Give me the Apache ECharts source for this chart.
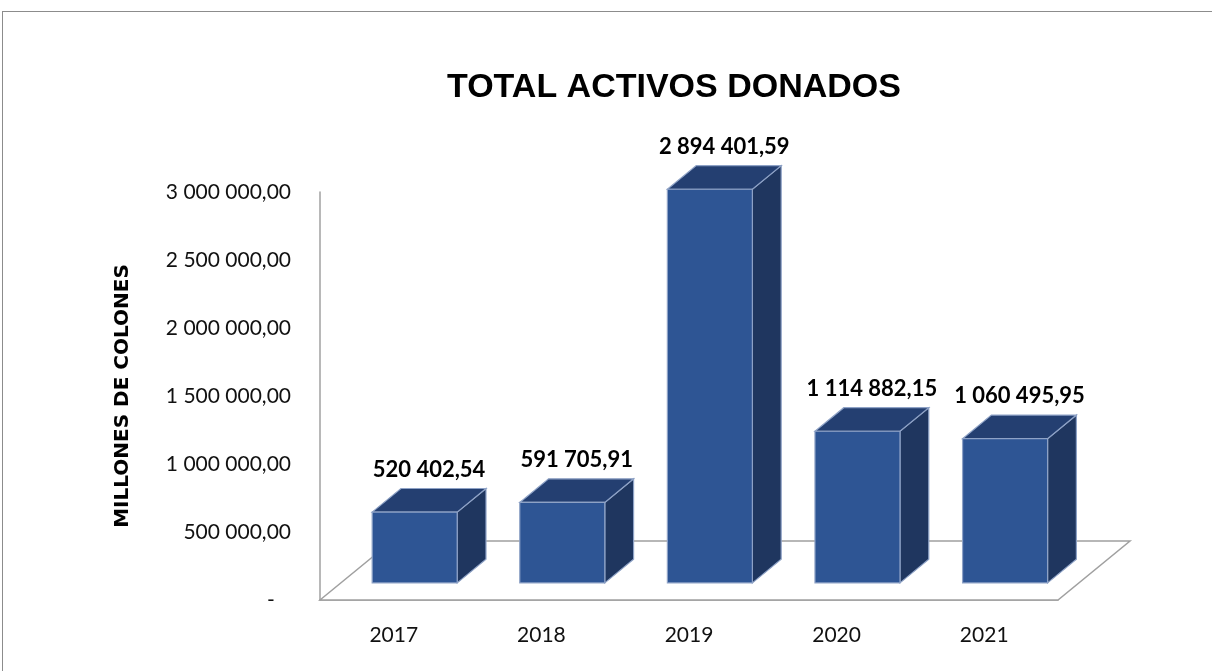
<!DOCTYPE html>
<html>
<head>
<meta charset="utf-8">
<title>Total activos donados</title>
<script src="https://cdn.jsdelivr.net/npm/echarts@6/dist/echarts.min.js"></script>
<style>
  html, body { margin: 0; padding: 0; background: #fff; }
  .chart_view { position: relative; width: 1212px; height: 671px; }
  .marco {
    position: absolute; left: 2px; top: 11px; right: 0; bottom: 0;
    border-top: 1.5px solid #8c8c8c; border-left: 1.5px solid #8c8c8c;
    pointer-events: none;
  }
  #mychart { width: 1212px; height: 671px; }
</style>
</head>
<body>
<div class="chart_view">
  <div id="mychart"></div>
  <div class="marco"></div>
</div>
<script>
// datos
var years = ['2017', '2018', '2019', '2020', '2021'];
var activos = [520402.54, 591705.91, 2894401.59, 1114882.15, 1060495.95];
var yMax = 3000000;
var yStep = 500000;

// perspectiva del piso (px) y posicion de la barra en la profundidad
var DX = 72, DY = 59;
var F0 = 0.29, F1 = 0.69;
var BAR_W = 0.576;

function fmt(v) {
  if (v === 0) return '-   ';
  var s = Number(v).toFixed(2).split('.');
  return s[0].replace(/\B(?=(\d{3})+(?!\d))/g, ' ') + ',' + s[1];
}

function renderFloor(params, api) {
  var cs = params.coordSys;
  var x = cs.x, y = cs.y + cs.height, w = cs.width;
  return {
    type: 'polygon',
    shape: { points: [[x, y], [x + DX, y - DY], [x + w + DX, y - DY], [x + w, y]] },
    style: { fill: '#fff', stroke: '#a0a0a0', lineWidth: 1.5 }
  };
}

function renderBar(params, api) {
  var i = api.value(0), v = api.value(1);
  var base = api.coord([i, 0]);
  var top = api.coord([i, v]);
  var w = api.size([1, 0])[0] * BAR_W;
  var x0 = base[0] - w / 2 + DX * F0, x1 = x0 + w;
  var yb = base[1] - DY * F0, yt = top[1] - DY * F0;
  var dx = DX * (F1 - F0), dy = DY * (F1 - F0);
  var edge = '#8ea2c6';
  return {
    type: 'group',
    children: [
      { type: 'polygon', shape: { points: [[x1, yb], [x1 + dx, yb - dy], [x1 + dx, yt - dy], [x1, yt]] },
        style: { fill: '#1f365f', stroke: edge, lineWidth: 1.2 } },
      { type: 'polygon', shape: { points: [[x0, yt], [x0 + dx, yt - dy], [x1 + dx, yt - dy], [x1, yt]] },
        style: { fill: '#243f71', stroke: edge, lineWidth: 1.2 } },
      { type: 'rect', shape: { x: x0, y: yt, width: w, height: yb - yt },
        style: { fill: '#2e5594', stroke: edge, lineWidth: 1.2 } },
      { type: 'text', x: x0 + w / 2 + dx / 2, y: yt - dy - 19,
        style: { text: fmt(v), fill: '#000', font: 'bold 22px Lato', align: 'center', verticalAlign: 'middle' } }
    ]
  };
}

var myChart = echarts.init(document.getElementById('mychart'));
var option = {
  backgroundColor: '#fff',
  animation: false,
  title: {
    text: 'TOTAL ACTIVOS DONADOS',
    left: 442, top: 66,
    textStyle: { fontFamily: 'Liberation Sans', fontWeight: 'bold', fontSize: 34, color: '#000' }
  },
  grid: { left: 320, right: 154, top: 192, bottom: 71 },
  xAxis: {
    type: 'category',
    data: years,
    axisLine: { lineStyle: { color: '#a0a0a0', width: 1.5 } },
    axisTick: { show: false },
    axisLabel: { color: '#111', fontFamily: 'Lato', fontSize: 21, margin: 25 }
  },
  yAxis: {
    type: 'value',
    min: 0, max: yMax, interval: yStep,
    name: 'MILLONES DE COLONES',
    nameLocation: 'middle',
    nameRotate: 90,
    nameGap: 187,
    nameTextStyle: { fontFamily: 'DejaVu Sans', fontWeight: 'bold', fontSize: 20, color: '#000' },
    axisLine: { show: true, lineStyle: { color: '#a0a0a0', width: 1.5 } },
    axisTick: { show: false },
    splitLine: { show: false },
    axisLabel: { color: '#111', fontFamily: 'Lato', fontSize: 21, margin: 29, formatter: fmt }
  },
  series: [
    { type: 'custom', name: 'piso', renderItem: renderFloor, data: [[0, 0]], silent: true, z: 1 },
    { type: 'custom', name: 'Total activos', renderItem: renderBar,
      data: activos.map(function (v, i) { return [i, v]; }), z: 2 }
  ]
};
myChart.setOption(option);
</script>
</body>
</html>
